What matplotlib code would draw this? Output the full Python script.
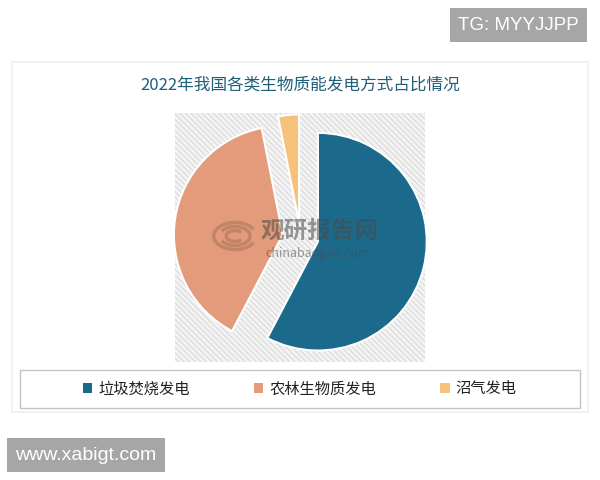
import matplotlib.pyplot as plt
from matplotlib.patches import Rectangle, Patch, Arc

plt.rcParams['font.family'] = ['Noto Sans CJK SC', 'DejaVu Sans']
plt.rcParams['hatch.linewidth'] = 0.6

# data
labels = ['垃圾焚烧发电', '农林生物质发电', '沼气发电']
shares = [57.7, 39.2, 3.1]
colors = ['#1b6a8c', '#e39b7b', '#f6c17a']

title = '2022年我国各类生物质能发电方式占比情况'

W, H = 600, 480
fig = plt.figure(figsize=(6, 4.8), dpi=100)
fig.patch.set_facecolor('white')


def px(x0, y0, x1, y1):
    # pixel box -> figure fraction [left, bottom, width, height]
    return [x0 / W, 1 - y1 / H, (x1 - x0) / W, (y1 - y0) / H]


def box(x0, y0, x1, y1, **kw):
    l, b, w, h = px(x0, y0, x1, y1)
    fig.patches.append(Rectangle((l, b), w, h, transform=fig.transFigure, **kw))


# outer white panel, hatched plot area, legend frame
box(12, 62, 588, 412, facecolor='white', edgecolor='#efefef', lw=1.2, zorder=-2)
box(175, 113, 425, 362, facecolor='#f3f3f3', edgecolor='#d2d2d2', lw=0,
    hatch='\\\\\\\\\\\\', zorder=-1)
box(20, 370, 580, 408, facecolor='white', edgecolor='#c4c4c4', lw=1.0, zorder=-1)

fig.text(0.5, 1 - 85 / H, title, ha='center', va='center', fontsize=12, color='#1f5f7a')

ax = fig.add_axes(px(175, 113, 425, 362))
ax.set_facecolor('none')
wedges, _ = ax.pie(shares, colors=colors, startangle=90, counterclock=False,
                   explode=[0.165, 0.165, 0.13],
                   wedgeprops=dict(edgecolor='white', linewidth=1.5))
ax.set_xlim(-1.153, 1.144)
ax.set_ylim(-1.145, 1.143)
ax.set_aspect('equal')
ax.axis('off')

# faint watermark in the middle (logo + text)
lg = fig.add_axes(px(212, 218, 258, 254))
lg.set_xlim(-1.3, 1.3)
lg.set_ylim(-1, 1)
lg.axis('off')
for w_, h_, t1, t2 in [(2.4, 1.5, 20, 340), (1.7, 1.05, 200, 160), (1.0, 0.6, 30, 330)]:
    lg.add_patch(Arc((0, 0), w_, h_, theta1=t1, theta2=t2, color='#9a6a50',
                     lw=2.5, alpha=0.45))
fig.text(320 / W, 1 - 231 / H, '观研报告网', ha='center', va='center', fontsize=17,
         fontweight='bold', color='#4a4a4a', alpha=0.55, zorder=5)
fig.text(318 / W, 1 - 253 / H, 'chinabaogao.com', ha='center', va='center', fontsize=9,
         color='#4a4a4a', alpha=0.55, zorder=5)

# legend
handles = [Patch(facecolor=c, edgecolor='none') for c in colors]
leg = fig.legend(handles, labels, loc='center', ncol=3, frameon=False,
                 fontsize=11, handlelength=0.6, handleheight=0.6,
                 handletextpad=0.4, columnspacing=4.2,
                 bbox_to_anchor=(300 / W, 1 - 389 / H))
for t in leg.get_texts():
    t.set_color('#222222')

# corner tags
fig.text(458 / W, 1 - 25 / H, 'TG: MYYJJPP', ha='left', va='center', fontsize=13.5,
         color='white', family=['Liberation Sans'],
         bbox=dict(facecolor='#a6a6a6', edgecolor='none', pad=6))
fig.text(15 / W, 1 - 455 / H, 'www.xabigt.com', ha='left', va='center', fontsize=14,
         color='white', family=['Liberation Sans'],
         bbox=dict(facecolor='#a6a6a6', edgecolor='none', pad=6))

fig.savefig('out.png', dpi=100)
